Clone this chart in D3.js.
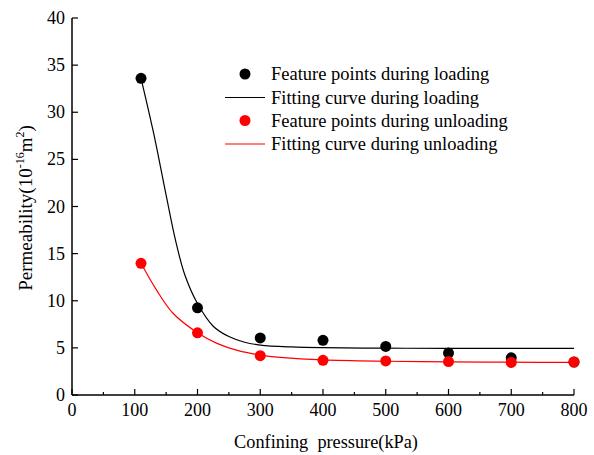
<!DOCTYPE html>
<html><head><meta charset="utf-8">
<script src="https://cdn.jsdelivr.net/npm/d3@7"></script>
<style>body{margin:0;background:#fff}svg{display:block}</style>
</head><body>
<svg id="c" width="594" height="455"></svg>
<script>
const pressure = [110,200,300,400,500,600,700,800];
const loadingPts = [33.6,9.25,6.05,5.8,5.15,4.45,3.95,3.5];
const unloadingPts = [13.97,6.6,4.17,3.68,3.62,3.55,3.45,3.5];
const loadFitX = [110,130,150,165,180,200,225,250,275,300,350,400,500,600,800];
const loadFitY = [33.6,27.8,21.2,16.4,12.7,9.7,7.3,6.2,5.6,5.3,5.1,5.02,4.97,4.95,4.95];
const unloadFitX = [110,135,161,200,231,265,300,332,400,500,600,700,800];
const unloadFitY = [13.97,11.1,8.67,6.6,5.48,4.7,4.24,4.0,3.72,3.58,3.52,3.48,3.46];
const xTicks = [0,100,200,300,400,500,600,700,800];
const yTicks = [0,5,10,15,20,25,30,35,40];
const legendLabels = ["Feature points during loading","Fitting curve during loading","Feature points during unloading","Fitting curve during unloading"];

const FONT = '"Liberation Serif"';
const svg = d3.select("#c");
const x = d3.scaleLinear().domain([0,800]).range([72,574]);
const y = d3.scaleLinear().domain([0,40]).range([395,18]);

// x axis
const xa = svg.append("g").attr("transform","translate(0,395)");
xa.append("line").attr("x1",x(0)).attr("x2",x(800)).attr("stroke","#000").attr("stroke-width",1.5);
xa.selectAll(".mj").data(xTicks).join("line").attr("x1",d=>x(d)).attr("x2",d=>x(d)).attr("y1",0).attr("y2",-6).attr("stroke","#000").attr("stroke-width",1.2);
xa.selectAll(".mn").data(d3.range(50,800,100)).join("line").attr("x1",d=>x(d)).attr("x2",d=>x(d)).attr("y1",0).attr("y2",-3).attr("stroke","#000").attr("stroke-width",1.2);
xa.selectAll("text").data(xTicks).join("text").attr("x",d=>x(d)).attr("y",21).attr("text-anchor","middle").style("font-family",FONT).attr("font-size",18).text(d=>d);

// y axis
const ya = svg.append("g").attr("transform","translate(72,0)");
ya.append("line").attr("y1",y(0)).attr("y2",y(40)).attr("stroke","#000").attr("stroke-width",1.5);
ya.selectAll(".mj").data(yTicks).join("line").attr("y1",d=>y(d)).attr("y2",d=>y(d)).attr("x1",0).attr("x2",6).attr("stroke","#000").attr("stroke-width",1.2);
ya.selectAll("text").data(yTicks).join("text").attr("x",-7).attr("y",d=>y(d)+6).attr("text-anchor","end").style("font-family",FONT).attr("font-size",18).text(d=>d);

// titles
svg.append("text").attr("x",326).attr("y",448).attr("text-anchor","middle").style("font-family",FONT).attr("font-size",18.3).style("white-space","pre").text("Confining  pressure(kPa)");
const yl = svg.append("text").attr("transform","translate(32,208) rotate(-90)").attr("text-anchor","middle").style("font-family",FONT).attr("font-size",19);
yl.append("tspan").text("Permeability(10");
yl.append("tspan").attr("font-size",12).attr("dy",-8).text("-16");
yl.append("tspan").attr("font-size",19).attr("dy",8).text("m");
yl.append("tspan").attr("font-size",12).attr("dy",-8).text("2");
yl.append("tspan").attr("font-size",19).attr("dy",8).text(")");

const line = d3.line().x(d=>x(d[0])).y(d=>y(d[1])).curve(d3.curveCatmullRom.alpha(0.5));
svg.append("path").attr("d",line(d3.zip(loadFitX,loadFitY))).attr("fill","none").attr("stroke","#000").attr("stroke-width",1.2);
svg.append("path").attr("d",line(d3.zip(unloadFitX,unloadFitY))).attr("fill","none").attr("stroke","#ff0000").attr("stroke-width",1.2);

svg.selectAll(".lp").data(d3.zip(pressure,loadingPts)).join("circle").attr("cx",d=>x(d[0])).attr("cy",d=>y(d[1])).attr("r",5.5).attr("fill","#000");
svg.selectAll(".up").data(d3.zip(pressure,unloadingPts)).join("circle").attr("cx",d=>x(d[0])).attr("cy",d=>y(d[1])).attr("r",5.5).attr("fill","#ff0000");

// legend
const lg = svg.append("g");
const rowsY = [74,97.5,120.5,144];
const colors = ["#000","#000","#ff0000","#ff0000"];
legendLabels.forEach((t,i)=>{
  if(i%2===0) lg.append("circle").attr("cx",245).attr("cy",rowsY[i]).attr("r",5.5).attr("fill",colors[i]);
  else lg.append("line").attr("x1",225).attr("x2",265).attr("y1",rowsY[i]).attr("y2",rowsY[i]).attr("stroke",colors[i]).attr("stroke-width",1.2);
  lg.append("text").attr("x",271).attr("y",rowsY[i]+6).style("font-family",FONT).attr("font-size",18.5).text(t);
});
</script>
</body></html>
